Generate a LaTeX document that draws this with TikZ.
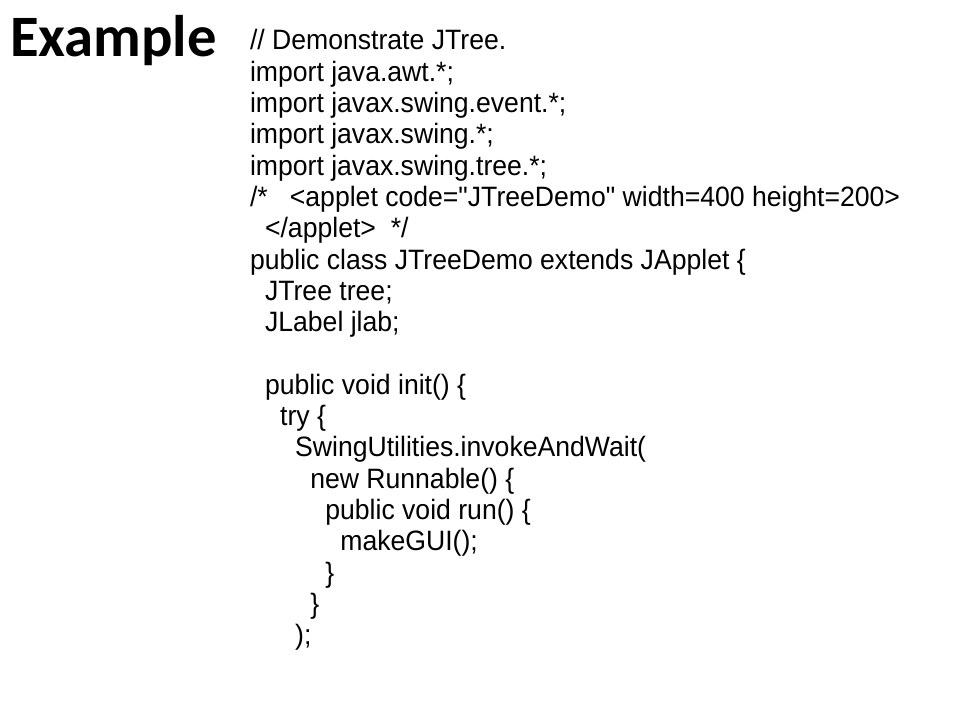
\documentclass[tikz,border=0pt]{standalone}
\usepackage{fontspec}
\newfontfamily\codefont{Liberation Sans}[FakeStretch=0.95]
\newfontfamily\titlefont{Carlito}
\begin{document}
\begin{tikzpicture}[x=1pt,y=1pt,
  code/.style={anchor=base west,inner sep=0pt,outer sep=0pt,font=\codefont\fontsize{21}{23.5}\selectfont},
  title/.style={anchor=base west,inner sep=0pt,outer sep=0pt,font=\titlefont\bfseries\fontsize{44}{48}\selectfont}]
\useasboundingbox[fill=white] (0,0) rectangle (720,-540);
\def\ind{11.3}
\def\Y#1{-(37.5+23.475*(#1-1))}
\node[title] (title) at (7.5,-42.75) {Example};
\node[code] (l1) at (187.5,{\Y{1}}) {// Demonstrate JTree.};
\node[code] (l2) at (187.5,{\Y{2}}) {import java.awt.*;};
\node[code] (l3) at (187.5,{\Y{3}}) {import javax.swing.event.*;};
\node[code] (l4) at (187.5,{\Y{4}}) {import javax.swing.*;};
\node[code] (l5) at (187.5,{\Y{5}}) {import javax.swing.tree.*;};
\node[code] (l6) at (187.5,{\Y{6}}) {/*\ \ \ <applet code="JTreeDemo" width=400 height=200>};
\node[code] (l7) at ({187.5+1*\ind},{\Y{7}}) {</applet>\ \ */};
\node[code] (l8) at (187.5,{\Y{8}}) {public class JTreeDemo extends JApplet \{};
\node[code] (l9) at ({187.5+1*\ind},{\Y{9}}) {JTree tree;};
\node[code] (l10) at ({187.5+1*\ind},{\Y{10}}) {JLabel jlab;};
\node[code] (l12) at ({187.5+1*\ind},{\Y{12}}) {public void init() \{};
\node[code] (l13) at ({187.5+2*\ind},{\Y{13}}) {try \{};
\node[code] (l14) at ({187.5+3*\ind},{\Y{14}}) {SwingUtilities.invokeAndWait(};
\node[code] (l15) at ({187.5+4*\ind},{\Y{15}}) {new Runnable() \{};
\node[code] (l16) at ({187.5+5*\ind},{\Y{16}}) {public void run() \{};
\node[code] (l17) at ({187.5+6*\ind},{\Y{17}}) {makeGUI();};
\node[code] (l18) at ({187.5+5*\ind},{\Y{18}}) {\}};
\node[code] (l19) at ({187.5+4*\ind},{\Y{19}}) {\}};
\node[code] (l20) at ({187.5+3*\ind},{\Y{20}}) {);};
\end{tikzpicture}
\end{document}
